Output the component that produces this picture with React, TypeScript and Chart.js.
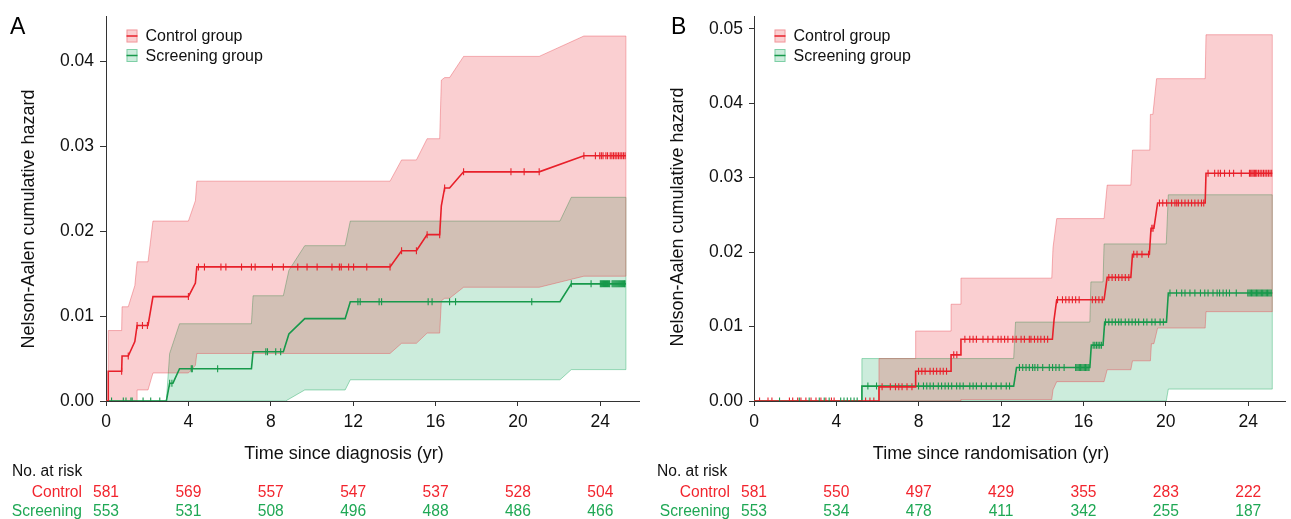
import React, { useEffect, useRef } from "react";
import { Chart, registerables } from "chart.js";
Chart.register(...registerables);

type Pt = [number, number];

// ---------- Panel A : time since diagnosis ----------
const xTicks = [0, 4, 8, 12, 16, 20, 24];

const controlA: Pt[] = [[0, 0], [0.11, 0], [0.11, 0.0035], [0.76, 0.0035], [0.78, 0.0053], [1.08, 0.0053], [1.4, 0.007], [1.51, 0.0089], [2.04, 0.0089], [2.28, 0.0123], [4.0, 0.0123], [4.34, 0.0139], [4.41, 0.0158], [13.79, 0.0158], [14.35, 0.0177], [15.07, 0.0177], [15.59, 0.0196], [16.2, 0.0196], [16.28, 0.023], [16.44, 0.0251], [16.68, 0.0251], [17.36, 0.027], [21.03, 0.027], [23.2, 0.0289], [25.24, 0.0289]];
const controlUpperA: Pt[] = [[0, 0], [0.11, 0], [0.11, 0.0083], [0.76, 0.0083], [0.78, 0.0111], [1.08, 0.0111], [1.4, 0.0136], [1.51, 0.0164], [2.04, 0.0164], [2.28, 0.0212], [4.0, 0.0212], [4.34, 0.0236], [4.41, 0.0259], [13.79, 0.0259], [14.35, 0.0284], [15.07, 0.0284], [15.59, 0.0309], [16.2, 0.0309], [16.28, 0.0378], [16.44, 0.0381], [16.68, 0.0381], [17.36, 0.0406], [21.03, 0.0406], [23.2, 0.043], [25.24, 0.043]];
const controlLowerA: Pt[] = [[0, 0], [1.51, 0], [1.51, 0.0013], [2.04, 0.0013], [2.28, 0.0033], [4.0, 0.0033], [4.34, 0.0042], [4.41, 0.0056], [13.79, 0.0056], [14.35, 0.0068], [15.07, 0.0068], [15.59, 0.008], [16.2, 0.008], [16.28, 0.0118], [16.44, 0.0121], [16.68, 0.0121], [17.36, 0.0134], [21.03, 0.0134], [23.2, 0.0147], [25.24, 0.0147]];
const screenA: Pt[] = [[0, 0], [2.93, 0], [3.09, 0.0021], [3.25, 0.0021], [3.57, 0.0038], [7.06, 0.0038], [7.14, 0.0058], [8.61, 0.0058], [8.88, 0.0079], [9.65, 0.0097], [11.61, 0.0097], [11.86, 0.0117], [22.04, 0.0117], [22.59, 0.0138], [25.24, 0.0138]];
const screenUpperA: Pt[] = [[0, 0], [2.93, 0], [3.09, 0.0056], [3.57, 0.0091], [7.06, 0.0091], [7.14, 0.0124], [8.61, 0.0124], [8.88, 0.0154], [9.65, 0.0183], [11.61, 0.0183], [11.86, 0.0212], [22.04, 0.0212], [22.59, 0.024], [25.24, 0.024]];
const screenLowerA: Pt[] = [[0, 0], [8.72, 0], [9.65, 0.0013], [11.61, 0.0013], [11.86, 0.0025], [22.04, 0.0025], [22.59, 0.0037], [25.24, 0.0037]];
const censorControlA = [0.76, 1.08, 1.51, 1.77, 2.01, 4.0, 4.49, 4.78, 5.58, 5.82, 6.58, 7.06, 7.24, 8.08, 8.61, 9.31, 9.76, 10.25, 10.97, 11.33, 11.42, 11.78, 12.02, 12.66, 13.79, 14.35, 15.07, 15.59, 16.2, 16.44, 17.36, 19.66, 20.3, 21.03, 23.2, 23.76, 23.97, 24.05, 24.13, 24.27, 24.35, 24.48, 24.56, 24.64, 24.72, 24.8, 24.88, 24.96, 25.04, 25.12, 25.2];
const censorScreenA = [0.27, 0.84, 0.97, 1.21, 1.27, 1.8, 2.17, 2.61, 3.09, 3.2, 4.14, 4.19, 5.42, 7.76, 7.84, 8.24, 8.48, 12.23, 12.34, 13.26, 13.38, 15.64, 15.83, 16.68, 16.97, 20.67, 22.59, 23.55, 24.0, 24.05, 24.1, 24.15, 24.2, 24.25, 24.3, 24.35, 24.4, 24.45, 24.57, 24.62, 24.67, 24.72, 24.77, 24.82, 24.87, 24.92, 24.97, 25.02, 25.07, 25.12, 25.17, 25.2];
const riskControlA = [581, 569, 557, 547, 537, 528, 504];
const riskScreenA = [553, 531, 508, 496, 488, 486, 466];

// ---------- Panel B : time since randomisation ----------
const controlB: Pt[] = [[0, 0], [6.07, 0], [6.07, 0.0019], [7.85, 0.0019], [7.85, 0.004], [9.57, 0.004], [9.57, 0.0062], [10.05, 0.0062], [10.05, 0.0083], [14.49, 0.0083], [14.57, 0.0109], [14.7, 0.0136], [17.0, 0.0136], [17.15, 0.0166], [18.3, 0.0166], [18.38, 0.0197], [19.2, 0.0197], [19.28, 0.0232], [19.42, 0.0232], [19.6, 0.0266], [21.91, 0.0266], [21.95, 0.0306], [25.17, 0.0306]];
const controlUpperB: Pt[] = [[0, 0], [6.07, 0], [6.07, 0.0057], [7.85, 0.0057], [7.85, 0.0094], [9.57, 0.0094], [9.57, 0.013], [10.05, 0.013], [10.05, 0.0165], [14.46, 0.0165], [14.52, 0.0206], [14.7, 0.0245], [17.0, 0.0245], [17.15, 0.029], [18.3, 0.029], [18.38, 0.0337], [19.22, 0.0337], [19.25, 0.0385], [19.37, 0.0385], [19.55, 0.0433], [21.91, 0.0433], [21.95, 0.0492], [25.17, 0.0492]];
const controlLowerB: Pt[] = [[0, 0], [10.05, 0], [10.05, 0.0002], [14.46, 0.0002], [14.52, 0.0015], [14.7, 0.0026], [17.0, 0.0026], [17.15, 0.0042], [18.3, 0.0042], [18.38, 0.0054], [19.25, 0.0054], [19.3, 0.0077], [19.42, 0.0077], [19.6, 0.0098], [21.91, 0.0098], [21.95, 0.012], [25.17, 0.012]];
const screenB: Pt[] = [[0, 0], [5.24, 0], [5.24, 0.002], [12.61, 0.002], [12.75, 0.0045], [16.31, 0.0045], [16.38, 0.0075], [16.95, 0.0075], [17.03, 0.0106], [20.03, 0.0106], [20.12, 0.0145], [25.17, 0.0145]];
const screenUpperB: Pt[] = [[0, 0], [5.24, 0], [5.24, 0.0057], [12.61, 0.0057], [12.7, 0.0106], [16.31, 0.0106], [16.36, 0.016], [16.95, 0.016], [17.0, 0.0211], [20.02, 0.0211], [20.12, 0.0277], [25.17, 0.0277]];
const screenLowerB: Pt[] = [[0, 0], [20.02, 0], [20.12, 0.0016], [25.17, 0.0016]];
const censorControlB = [0.27, 0.68, 0.87, 1.72, 1.88, 2.12, 2.28, 2.52, 2.77, 3.01, 3.25, 3.49, 3.76, 3.89, 5.42, 5.63, 5.82, 6.22, 6.62, 6.87, 7.03, 7.19, 7.43, 7.67, 7.99, 8.15, 8.31, 8.55, 8.71, 8.87, 9.04, 9.19, 9.35, 9.7, 9.85, 10.24, 10.48, 10.64, 10.8, 11.12, 11.36, 11.6, 11.85, 12.0, 12.17, 12.33, 12.57, 12.73, 12.97, 13.13, 13.37, 13.45, 13.62, 13.78, 13.93, 14.1, 14.26, 14.74, 14.98, 15.14, 15.3, 15.46, 15.62, 15.79, 16.43, 16.59, 16.75, 16.91, 17.23, 17.39, 17.55, 17.71, 17.87, 18.03, 18.2, 18.44, 18.6, 18.84, 19.16, 19.32, 19.38, 19.69, 19.85, 20.04, 20.28, 20.44, 20.53, 20.61, 20.77, 20.93, 21.09, 21.25, 21.41, 21.57, 21.73, 21.84, 22.05, 22.37, 22.54, 22.65, 22.85, 23.09, 23.29, 23.66, 24.06, 24.12, 24.18, 24.24, 24.3, 24.36, 24.42, 24.5, 24.58, 24.66, 24.74, 24.82, 24.9, 24.98, 25.06, 25.14];
const censorScreenB = [1.24, 2.2, 2.68, 3.17, 3.41, 3.65, 4.21, 4.37, 4.53, 4.7, 4.86, 5.01, 5.53, 5.95, 7.99, 8.23, 8.39, 8.55, 8.71, 8.95, 9.11, 9.28, 9.44, 9.6, 9.84, 10.0, 10.16, 10.48, 10.64, 10.8, 11.04, 11.28, 11.52, 11.76, 12.0, 12.25, 12.41, 12.89, 13.05, 13.21, 13.37, 13.53, 13.64, 13.78, 14.02, 14.34, 14.5, 14.66, 14.82, 15.06, 15.62, 15.68, 15.74, 15.8, 15.86, 15.92, 15.98, 16.04, 16.1, 16.16, 16.22, 16.27, 16.47, 16.55, 16.63, 16.71, 16.79, 16.87, 17.07, 17.23, 17.39, 17.55, 17.71, 17.83, 18.03, 18.2, 18.36, 18.52, 18.68, 18.92, 19.08, 19.32, 19.48, 19.72, 19.88, 20.2, 20.52, 20.77, 20.93, 21.17, 21.41, 21.68, 21.89, 22.05, 22.29, 22.49, 22.61, 22.78, 22.94, 23.09, 23.42, 23.98, 24.04, 24.1, 24.16, 24.22, 24.28, 24.34, 24.4, 24.46, 24.52, 24.58, 24.64, 24.7, 24.76, 24.82, 24.88, 24.94, 25.0, 25.06, 25.12];
const riskControlB = [581, 550, 497, 429, 355, 283, 222];
const riskScreenB = [553, 534, 478, 411, 342, 255, 187];

const legendLabels = ["Control group", "Screening group"];
const riskRowLabels = ["Control", "Screening"];

// ---------- styling ----------
const FONT = '"Liberation Sans", Arial, Helvetica, sans-serif';
const RED = "#e8202a";
const GREEN = "#17994b";
const RED_TEXT = "#f2252e";
const GREEN_TEXT = "#1fa855";
const RED_FILL = "rgba(230,30,40,0.21)";
const RED_EDGE = "rgba(230,60,70,0.38)";
const GREEN_FILL = "rgba(0,160,80,0.2)";
const GREEN_EDGE = "rgba(0,160,80,0.38)";

function valueAt(curve: Pt[], t: number): number {
  for (let i = 0; i < curve.length - 1; i++) {
    const [x0, y0] = curve[i];
    const [x1, y1] = curve[i + 1];
    if (x1 > x0 && t >= x0 && t <= x1) return y0 + ((y1 - y0) * (t - x0)) / (x1 - x0);
  }
  return curve[curve.length - 1][1];
}
const xy = (pts: Pt[]) => pts.map(([x, y]) => ({ x, y }));

interface PanelCfg {
  letter: string;
  letterX: number;
  width: number;
  left: number;
  top: number;
  rightPad: number;
  xMax: number;
  yMax: number;
  tickLen: number;
  yTitleX: number;
  yTitleY: number;
  xTitle: string;
  xTitleX: number;
  control: Pt[]; controlUpper: Pt[]; controlLower: Pt[];
  screen: Pt[]; screenUpper: Pt[]; screenLower: Pt[];
  censorControl: number[]; censorScreen: number[];
  riskControl: number[]; riskScreen: number[];
}

const panels: PanelCfg[] = [
  {
    letter: "A", letterX: 10, width: 645, left: 106, top: 15, rightPad: 2,
    xMax: 25.92, yMax: 0.0453, tickLen: 6, yTitleX: 29, yTitleY: 219,
    xTitle: "Time since diagnosis (yr)", xTitleX: 344,
    control: controlA, controlUpper: controlUpperA, controlLower: controlLowerA,
    screen: screenA, screenUpper: screenUpperA, screenLower: screenLowerA,
    censorControl: censorControlA, censorScreen: censorScreenA,
    riskControl: riskControlA, riskScreen: riskScreenA,
  },
  {
    letter: "B", letterX: 26, width: 646, left: 109, top: 16, rightPad: 1,
    xMax: 25.83, yMax: 0.05165, tickLen: 5, yTitleX: 33, yTitleY: 217,
    xTitle: "Time since randomisation (yr)", xTitleX: 346,
    control: controlB, controlUpper: controlUpperB, controlLower: controlLowerB,
    screen: screenB, screenUpper: screenUpperB, screenLower: screenLowerB,
    censorControl: censorControlB, censorScreen: censorScreenB,
    riskControl: riskControlB, riskScreen: riskScreenB,
  },
];

function Panel({ cfg }: { cfg: PanelCfg }) {
  const ref = useRef<HTMLCanvasElement | null>(null);
  useEffect(() => {
    if (!ref.current) return;
    const bandBase = { pointRadius: 0, borderWidth: 1, tension: 0 };
    const last = cfg.control[cfg.control.length - 1][0];
    const overlay = {
      id: "overlay" + cfg.letter,
      afterDraw(chart: any) {
        const ctx = chart.ctx as CanvasRenderingContext2D;
        const ca = chart.chartArea;
        const xs = chart.scales.x;
        ctx.save();
        // panel letter
        ctx.fillStyle = "#000";
        ctx.font = `23px ${FONT}`;
        ctx.textAlign = "left";
        ctx.textBaseline = "alphabetic";
        ctx.fillText(cfg.letter, cfg.letterX, 34);
        // legend
        const rows = [
          { fill: RED_FILL, edge: RED_EDGE, line: RED, y: 36 },
          { fill: GREEN_FILL, edge: GREEN_EDGE, line: GREEN, y: 55.5 },
        ];
        rows.forEach((r, i) => {
          const bx = ca.left + 20.5;
          ctx.fillStyle = "#fff";
          ctx.fillRect(bx, r.y - 6.5, 11, 13);
          ctx.fillStyle = r.fill;
          ctx.fillRect(bx, r.y - 6.5, 11, 13);
          ctx.strokeStyle = r.edge;
          ctx.lineWidth = 1;
          ctx.strokeRect(bx + 0.5, r.y - 6, 10, 12);
          ctx.strokeStyle = r.line;
          ctx.lineWidth = 1.5;
          ctx.beginPath();
          ctx.moveTo(bx, r.y);
          ctx.lineTo(bx + 11, r.y);
          ctx.stroke();
          ctx.fillStyle = "#111";
          ctx.font = `16px ${FONT}`;
          ctx.textBaseline = "middle";
          ctx.fillText(legendLabels[i], ca.left + 39.5, r.y + 1);
        });
        // y title
        ctx.save();
        ctx.translate(cfg.yTitleX, cfg.yTitleY);
        ctx.rotate(-Math.PI / 2);
        ctx.textAlign = "center";
        ctx.textBaseline = "middle";
        ctx.font = `18px ${FONT}`;
        ctx.fillStyle = "#111";
        ctx.fillText("Nelson-Aalen cumulative hazard", 0, 0);
        ctx.restore();
        // x title
        ctx.textAlign = "center";
        ctx.textBaseline = "middle";
        ctx.font = `18px ${FONT}`;
        ctx.fillStyle = "#111";
        ctx.fillText(cfg.xTitle, cfg.xTitleX, 454);
        // risk table
        ctx.font = `15.6px ${FONT}`;
        ctx.textAlign = "left";
        ctx.fillStyle = "#111";
        ctx.fillText("No. at risk", 12, 471.5);
        const x0 = xs.getPixelForValue(0);
        ctx.textAlign = "right";
        ctx.fillStyle = RED_TEXT;
        ctx.fillText(riskRowLabels[0], x0 - 24, 492.5);
        ctx.fillStyle = GREEN_TEXT;
        ctx.fillText(riskRowLabels[1], x0 - 24, 511.5);
        ctx.textAlign = "center";
        xTicks.forEach((t, i) => {
          const px = xs.getPixelForValue(t);
          ctx.fillStyle = RED_TEXT;
          ctx.fillText(String(cfg.riskControl[i]), px, 492.5);
          ctx.fillStyle = GREEN_TEXT;
          ctx.fillText(String(cfg.riskScreen[i]), px, 511.5);
        });
        ctx.restore();
      },
    };
    const tickFont = { family: FONT, size: 17.5 };
    const chart = new Chart(ref.current, {
      type: "line",
      data: {
        datasets: [
          { ...bandBase, data: xy(cfg.screenUpper), borderColor: GREEN_EDGE, backgroundColor: GREEN_FILL, fill: "+1", order: 9 },
          { ...bandBase, data: xy(cfg.screenLower), borderColor: GREEN_EDGE, fill: false, order: 8 },
          { ...bandBase, data: [{ x: last, y: valueAt(cfg.screenLower, last) }, { x: last, y: valueAt(cfg.screenUpper, last) }], borderColor: GREEN_EDGE, fill: false, order: 8 },
          { ...bandBase, data: xy(cfg.controlUpper), borderColor: RED_EDGE, backgroundColor: RED_FILL, fill: "+1", order: 7 },
          { ...bandBase, data: xy(cfg.controlLower), borderColor: RED_EDGE, fill: false, order: 6 },
          { ...bandBase, data: [{ x: last, y: valueAt(cfg.controlLower, last) }, { x: last, y: valueAt(cfg.controlUpper, last) }], borderColor: RED_EDGE, fill: false, order: 6 },
          { data: xy(cfg.screen), borderColor: GREEN, borderWidth: 1.6, pointRadius: 0, fill: false, order: 4 },
          { data: xy(cfg.control), borderColor: RED, borderWidth: 1.6, pointRadius: 0, fill: false, order: 3 },
          {
            data: cfg.censorScreen.map((t) => ({ x: t, y: valueAt(cfg.screen, t) })),
            showLine: false, pointStyle: "line", rotation: 90, pointRadius: 3.5, borderColor: GREEN, pointBorderWidth: 1.1, order: 2,
          },
          {
            data: cfg.censorControl.map((t) => ({ x: t, y: valueAt(cfg.control, t) })),
            showLine: false, pointStyle: "line", rotation: 90, pointRadius: 3.5, borderColor: RED, pointBorderWidth: 1.1, order: 1,
          },
        ] as any,
      },
      options: {
        animation: false,
        responsive: false,
        events: [],
        layout: { padding: { top: cfg.top, right: cfg.rightPad, left: 0, bottom: 0 } },
        plugins: { legend: { display: false }, tooltip: { enabled: false } },
        scales: {
          x: {
            type: "linear",
            min: 0,
            max: cfg.xMax,
            afterFit: (s: any) => { s.height = 118; },
            afterBuildTicks: (s: any) => { s.ticks = xTicks.map((v) => ({ value: v })); },
            ticks: { font: tickFont, color: "#111", padding: 6, maxRotation: 0, callback: (v: any) => String(v) },
            grid: { drawOnChartArea: false, drawTicks: true, tickLength: 5, color: "#333", lineWidth: 1 },
            border: { display: true, color: "#333", width: 1 },
          },
          y: {
            type: "linear",
            min: 0,
            max: cfg.yMax,
            afterFit: (s: any) => { s.width = cfg.left; },
            afterBuildTicks: (s: any) => {
              const out: any[] = [];
              for (let v = 0; v <= cfg.yMax + 1e-9; v += 0.01) out.push({ value: Math.round(v * 100) / 100 });
              s.ticks = out;
            },
            ticks: { font: tickFont, color: "#111", padding: 6, callback: (v: any) => Number(v).toFixed(2) },
            grid: { drawOnChartArea: false, drawTicks: true, tickLength: cfg.tickLen, color: "#333", lineWidth: 1 },
            border: { display: true, color: "#333", width: 1 },
          },
        },
      } as any,
      plugins: [overlay as any],
    });
    return () => chart.destroy();
  }, [cfg]);
  return <canvas ref={ref} width={cfg.width} height={519} style={{ display: "block" }} />;
}

export default function App() {
  return (
    <div style={{ position: "absolute", left: 0, top: 0, width: 1291, height: 519, display: "flex", background: "#fff" }}>
      {panels.map((p) => (
        <Panel key={p.letter} cfg={p} />
      ))}
    </div>
  );
}
